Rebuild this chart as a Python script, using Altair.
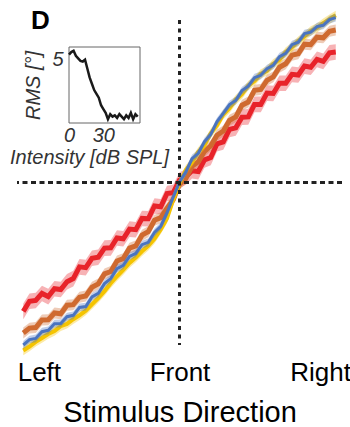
import altair as alt
import pandas as pd

# ---------------- data ----------------
direction = list(range(-100, 101, 4))  # stimulus direction (deg)

red = [-82.5, -76.0, -75.5, -71.0, -73.0, -68.0, -68.5, -63.5, -61.5, -54.0,
       -54.5, -48.5, -47.8, -42.0, -41.8, -35.5, -36.0, -29.8, -30.2, -23.0,
       -23.2, -15.0, -15.5, -7.0, -6.5, 1.5, 3.5, 7.5, 7.0, 14.5,
       16.0, 24.8, 26.0, 34.0, 35.0, 41.8, 42.0, 50.0, 50.0, 57.2,
       57.0, 63.5, 63.5, 69.2, 68.8, 74.5, 73.8, 78.8, 77.5, 83.0, 83.5]
orange = [-96.3, -93.2, -92.8, -88.0, -87.8, -83.5, -84.0, -78.5, -78.2, -73.4,
          -72.6, -67.0, -64.9, -58.5, -57.0, -50.2, -48.7, -42.0, -40.6, -33.7,
          -31.5, -24.2, -22.5, -16.5, -11.0, -1.0, 2.5, 10.5, 13.3, 20.0,
          23.5, 30.2, 33.0, 39.8, 42.0, 49.5, 51.5, 59.0, 59.5, 65.4,
          67.6, 73.8, 76.0, 81.5, 82.4, 88.5, 88.2, 93.0, 92.6, 96.8, 97.6]
yellow = [-107.5, -105.0, -102.0, -99.5, -97.0, -95.0, -92.0, -90.5, -87.5, -85.0,
          -82.0, -78.0, -74.0, -69.5, -64.5, -60.0, -56.0, -51.5, -48.0, -44.0,
          -40.5, -36.0, -30.0, -23.0, -11.0, -0.5, 8.0, 13.0, 19.5, 24.0,
          31.5, 36.5, 43.5, 47.5, 53.0, 56.5, 62.0, 65.0, 69.5, 71.5,
          76.0, 78.5, 83.5, 86.5, 90.5, 93.5, 97.0, 99.0, 102.0, 104.5, 107.0]
blue = [-104.0, -100.5, -99.8, -95.5, -94.6, -90.4, -90.2, -85.9, -85.0, -80.0,
        -79.4, -73.2, -71.0, -64.7, -61.5, -55.1, -53.0, -47.3, -45.4, -39.8,
        -38.3, -32.0, -28.0, -19.5, -9.3, 0.4, 6.6, 15.3, 18.7, 26.2,
        30.8, 39.0, 44.3, 49.9, 52.5, 58.8, 61.6, 67.1, 68.6, 72.9,
        75.0, 80.6, 82.7, 88.2, 89.8, 95.3, 96.2, 99.8, 100.6, 104.2, 105.5]

series_names = ["red", "orange", "yellow", "blue"]
series_values = [red, orange, yellow, blue]
series_sem = [5.0, 3.5, 3.0, 2.5]
series_colors = ["#e8232a", "#cf6a30", "#f5c400", "#4a74c0"]
series_widths = [5, 5, 4, 3]

tick_values = [-90, 0, 90]
tick_labels = ["Left", "Front", "Right"]

inset_db = list(range(0, 61, 2))
inset_rms = [5.4, 5.6, 5.7, 5.3, 5.1, 4.9, 4.85, 5.0, 4.3, 3.6,
             3.1, 2.6, 2.3, 2.0, 1.4, 1.1, 0.8, 0.3, 0.7, 0.5,
             0.6, 0.4, 0.7, 0.5, 0.3, 0.6, 0.4, 0.8, 0.3, 0.7, 0.5]

panel_label = "D"

# ---------------- geometry ----------------
W, H = 325, 325
DOM = [-104, 104]
INSET_X_RANGE = [52, 123]
INSET_Y_RANGE = [103, 27]
FONT = "Liberation Sans"

label_expr = "{" + ",".join(f"'{v}':'{l}'" for v, l in zip(tick_values, tick_labels)) + "}[datum.value]"

xs = alt.X("dir:Q", scale=alt.Scale(domain=DOM),
           axis=alt.Axis(values=tick_values, labelExpr=label_expr, domain=False, ticks=False,
                         grid=False, labelFontSize=26, labelFont=FONT, labelColor="black",
                         labelPadding=14, labelFlush=False, labelOverlap=False,
                         title="Stimulus Direction", titleFontSize=29, titleFont=FONT,
                         titleFontWeight="normal", titleColor="black", titlePadding=13))
ys = alt.Y("resp:Q", scale=alt.Scale(domain=DOM), axis=None)

layers = []
for name, vals, sem, col, lw in zip(series_names, series_values, series_sem, series_colors, series_widths):
    df = pd.DataFrame({"dir": direction, "resp": vals})
    df["lo"] = df["resp"] - sem
    df["hi"] = df["resp"] + sem
    base = alt.Chart(df)
    layers.append(base.mark_area(color=col, opacity=0.35).encode(x=xs, y=alt.Y("lo:Q", scale=alt.Scale(domain=DOM), axis=None), y2="hi:Q"))
    layers.append(base.mark_line(color=col, strokeWidth=lw).encode(x=xs, y=ys))

rule_df = pd.DataFrame({"v": [0]})
vrule = alt.Chart(rule_df).mark_rule(color="#222", strokeWidth=3, strokeDash=[4, 4.5]).encode(x=alt.X("v:Q", scale=alt.Scale(domain=DOM)))
hrule = alt.Chart(rule_df).mark_rule(color="#222", strokeWidth=3, strokeDash=[5, 3.5]).encode(y=alt.Y("v:Q", scale=alt.Scale(domain=DOM)))

# panel letter placed in the top-left corner of the plot frame
letter = alt.Chart(pd.DataFrame({"t": [panel_label]})).mark_text(
    font=FONT, fontSize=26, fontWeight="bold", color="black", align="left", baseline="alphabetic"
).encode(text="t:N", x=alt.value(14), y=alt.value(9))

main = alt.layer(*layers, vrule, hrule, letter)

# ---------------- inset ----------------
ix_scale = alt.Scale(domain=[0, 62], range=INSET_X_RANGE, nice=False, zero=False)
iy_scale = alt.Scale(domain=[0, 6], range=INSET_Y_RANGE, nice=False, zero=False)
inset_df = pd.DataFrame({"db": inset_db, "rms": inset_rms})
box_df = pd.DataFrame({"x0": [0], "x1": [62], "y0": [0], "y1": [6]})

inset_x_axis = alt.Axis(orient="bottom", offset=INSET_Y_RANGE[0] - H, values=[0, 30], domain=False, ticks=False,
                        grid=False, labelFontSize=20, labelFont=FONT, labelFontStyle="italic", labelColor="#333",
                        labelPadding=2, labelFlush=False, format="d", title="Intensity [dB SPL]", titleFontSize=20,
                        titleFont=FONT, titleFontStyle="italic", titleFontWeight="normal", titleColor="#333",
                        titlePadding=2, titleX=72)
inset_y_axis = alt.Axis(orient="left", offset=-INSET_X_RANGE[0], values=[5], domain=False, ticks=False,
                        grid=False, labelFontSize=20, labelFont=FONT, labelFontStyle="italic", labelColor="#333",
                        labelPadding=6, format="d", title="RMS [°]", titleFontSize=20, titleFont=FONT,
                        titleFontStyle="italic", titleFontWeight="normal", titleColor="#333", titlePadding=8)

box = alt.Chart(box_df).mark_rect(fill=None, stroke="#666", strokeWidth=1).encode(
    x=alt.X("x0:Q", scale=ix_scale, axis=inset_x_axis), x2="x1:Q",
    y=alt.Y("y0:Q", scale=iy_scale, axis=inset_y_axis), y2="y1:Q")
iline = alt.Chart(inset_df).mark_line(color="#1a1a1a", strokeWidth=2.5).encode(
    x=alt.X("db:Q", scale=ix_scale), y=alt.Y("rms:Q", scale=iy_scale))
inset = alt.layer(box, iline)

chart = alt.layer(main, inset).resolve_scale(x="independent", y="independent").properties(
    width=W, height=H,
    autosize=alt.AutoSizeParams(type="none"),
    padding={"left": 17, "top": 20, "right": 8, "bottom": 82},
).configure_view(stroke=None)

chart.save("out.html", embed_options={"renderer": "svg", "actions": False})
